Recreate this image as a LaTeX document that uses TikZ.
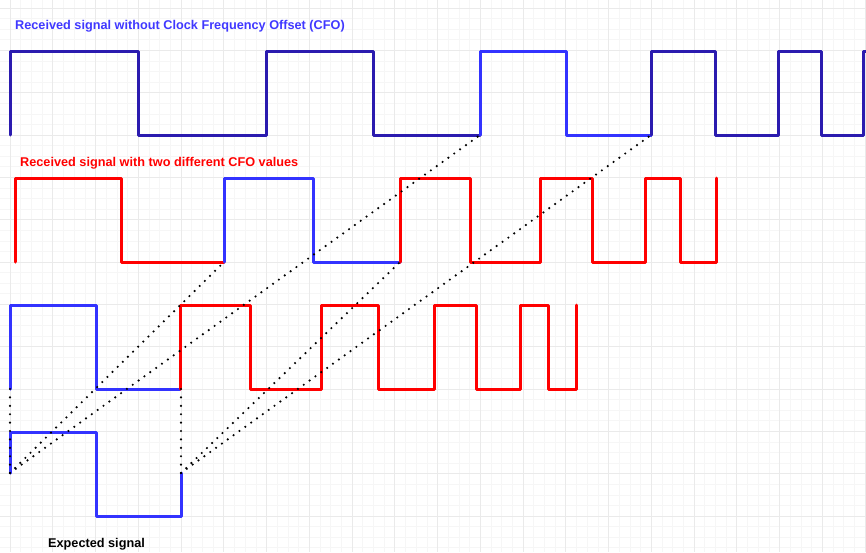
\documentclass[tikz,border=0pt]{standalone}
\usepackage{fontspec}
\setmainfont{Liberation Sans}
\definecolor{darkblue}{HTML}{2B1BAF}
\definecolor{litblue}{HTML}{3333FF}
\definecolor{txtblue}{HTML}{4038FF}
\definecolor{sigred}{HTML}{FF0000}
\definecolor{gridmajor}{HTML}{EAEAEA}
\definecolor{gridminor}{HTML}{F6F6F6}
\tikzset{
  minorgrid/.style={draw=gridminor, line width=0.6pt},
  majorgrid/.style={draw=gridmajor, line width=0.8pt},
  sig/.style={line width=3pt, line join=round, line cap=round},
  dk/.style={sig, draw=darkblue},
  lb/.style={sig, draw=litblue},
  rd/.style={sig, draw=sigred},
  dotline/.style={draw=black, line width=2.4pt, line cap=round, dash pattern=on 0pt off 7.2pt},
  dotvert/.style={draw=black, line width=2.4pt, line cap=round, dash pattern=on 0pt off 8.4pt},
  lbl/.style={font=\bfseries\fontsize{12.7pt}{14pt}\selectfont, inner sep=0pt, anchor=base west}
}
\begin{document}
\begin{tikzpicture}[x=1pt,y=-1pt]
\useasboundingbox (0,0) rectangle (866,552);
\fill[white] (0,0) rectangle (866,552);
% grid
\foreach \i in {-1,...,81} {\draw[minorgrid] ({10+10.6875*\i},0) -- ++(0,552);}
\foreach \j in {-13,...,40} {\draw[minorgrid] (0,{135+10.5833*\j}) -- ++(866,0);}
\foreach \i in {0,...,20} {\draw[majorgrid] ({10+42.75*\i},0) -- ++(0,552);}
\foreach \j in {-3,...,10} {\draw[majorgrid] (0,{135+42.333*\j}) -- ++(866,0);}
% labels
\node[lbl, text=txtblue] (t1) at (15,29.3) {Received signal without Clock Frequency Offset (CFO)};
\node[lbl, text=sigred] (t2) at (20,166.7) {Received signal with two different CFO values};
\node[lbl, text=black] (t3) at (48,547.3) {Expected signal};
% row 1
\draw[dk] (10,135) -- (10,51) -- (138,51) -- (138,135) -- (266,135) -- (266,51) -- (373,51) -- (373,135) -- (480,135);
\draw[lb] (480,135) -- (480,51) -- (566,51) -- (566,135) -- (651,135);
\draw[dk] (651,135) -- (651,51) -- (715,51) -- (715,135) -- (778,135) -- (778,51) -- (821,51) -- (821,135) -- (863,135) -- (863,51) -- (875,51);
% row 2
\draw[rd] (15,262) -- (15,178) -- (121,178) -- (121,262) -- (224,262);
\draw[lb] (224,262) -- (224,178) -- (313,178) -- (313,262) -- (400,262);
\draw[rd] (400,262) -- (400,178) -- (470,178) -- (470,262) -- (540,262) -- (540,178) -- (592,178) -- (592,262) -- (645,262) -- (645,178) -- (680,178) -- (680,262) -- (716,262) -- (716,178);
% row 3
\draw[lb] (10,389) -- (10,305) -- (96,305) -- (96,389) -- (180,389);
\draw[rd] (180,389) -- (180,305) -- (250,305) -- (250,389) -- (321,389) -- (321,305) -- (378,305) -- (378,389) -- (434,389) -- (434,305) -- (476,305) -- (476,389) -- (520,389) -- (520,305) -- (548,305) -- (548,389) -- (576,389) -- (576,305);
% row 4
\draw[lb] (10,473) -- (10,432) -- (96,432) -- (96,516) -- (181,516) -- (181,473);
% connector end points
\coordinate (a0) at (10,473);
\coordinate (b0) at (181,473);
\coordinate (a3) at (10,389);
\coordinate (b3) at (181,389);
\coordinate (a2) at (224,262);
\coordinate (b2) at (400,262);
\coordinate (a1) at (480,135);
\coordinate (b1) at (651,135);
% dotted connectors
\draw[dotvert] (a3) -- (a0);
\draw[dotvert] (b3) -- (b0);
\draw[dotline] (a0) -- (a2);
\draw[dotline] (a0) -- (a1);
\draw[dotline] (b0) -- (b2);
\draw[dotline] (b0) -- (b1);
\end{tikzpicture}
\end{document}
